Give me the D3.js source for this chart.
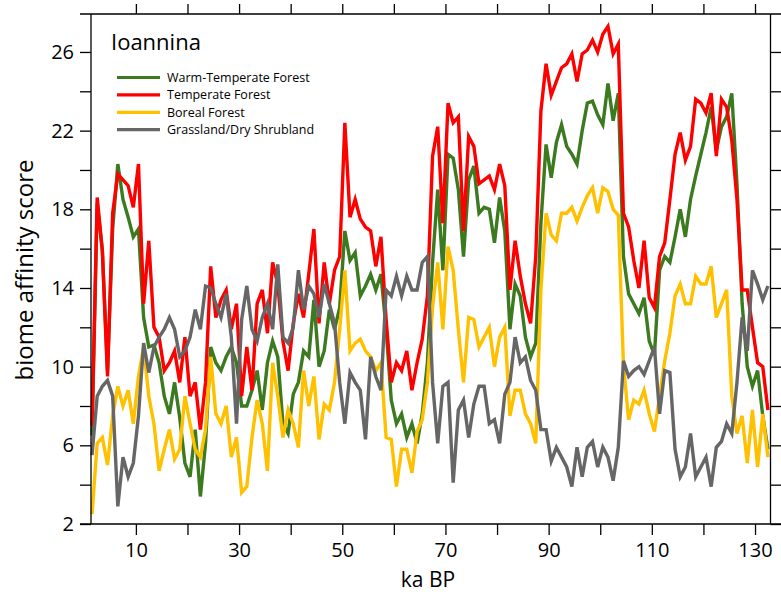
<!DOCTYPE html>
<html lang="en">

<head>
  <meta charset="utf-8">
  <title>Ioannina biome affinity scores</title>
  <script src="https://d3js.org/d3.v7.min.js"></script>
  <style>
    body { margin: 0; background: #fff; }
    svg { display: block; font-family: "Open Sans", "Noto Sans", sans-serif; }
  </style>
</head>

<body>
  <script>
    // sample ages (ka BP), one per ka from 1.5
    var ages = d3.range(132).map(function (i) { return 1.5 + i; });

    var warmTemperate = [
      6.5, 18.3, 15.9, 9.8, 17, 20.3, 18.5, 17.6, 16.6, 17, 12.5, 11, 11.1, 10.2, 8.5, 7.6, 9.2, 7.4, 5.1, 4.4, 6.8, 3.4, 6.1,
      11.0, 10.2, 9.8, 10.5, 11, 10.2, 8, 8, 8.8, 9.8, 7.8, 10.2, 11.3, 10.5, 7.1, 6.6, 8.6, 9.2, 10.8, 10.5, 13.4,
      10, 10.8, 12.9, 11.9, 13, 16.9, 15.4, 15.8, 13.6, 14.1, 14.7, 13.9, 14.7, 11.9, 8.3, 7.1, 7.6, 6.4, 7.1, 6.1, 7.6, 10.2, 15.3,
      19, 14.9, 20.8, 20.6, 19, 15.6, 19.5, 20.2, 17.8, 18.1, 18, 16.3, 18.6, 16.9, 11.9, 14.2, 13.6, 11.5, 10.5, 11.2, 17.3,
      21.3, 19.6, 21.4, 22.3, 21.2, 20.8, 20.3, 22, 23.4, 23.5, 22.8, 22.3, 24.4, 22.5, 23.9, 15.6, 13.7, 13.2, 12.7, 13.5, 11.3, 10.6,
      14.9, 15.6, 15.3, 16.6, 18, 16.6, 18.5, 19.7, 20.8, 21.9, 23.2, 21, 22.2, 22.7, 23.9, 19.3, 13.2, 10, 9, 9.8, 7.5, 5.8
    ];
    var temperate = [
      7, 18.6, 15.9, 9.5, 17.8, 19.8, 19.5, 19.2, 18.1, 20.3, 13.2, 16.4, 12, 11.5, 9.8, 10.2, 10.8, 9.2, 11.5, 8.5, 9.2, 6.8, 9.2,
      15.1, 12.5, 13.4, 13.9, 11.9, 13.2, 8.5, 11, 8.8, 13.2, 13.9, 11.7, 15.3, 14.2, 11.3, 9.8, 12.2, 13.7, 12.5, 14.7, 17,
      12.2, 15.3, 13.2, 14.9, 15.6, 22.4, 17.6, 18.5, 17.5, 17.1, 16.9, 15.1, 16.6, 12.4, 9.2, 10.2, 9.8, 10.8, 8.8, 10.2, 11.4, 13.6, 20.7,
      22.2, 17.3, 23.4, 22.4, 22.7, 16.9, 21.7, 21.2, 19.3, 19.5, 19.7, 19, 20.3, 19.2, 13.9, 16.4, 14.6, 13.2, 12.2, 15.6, 23,
      25.4, 23.8, 24.5, 25.2, 25.4, 25.9, 24.5, 25.9, 26.1, 26.6, 26, 26.9, 27.3, 25.9, 26.4, 17.8, 17.1, 15.4, 14, 16.4, 13.5, 13,
      15.6, 16.3, 18.5, 20.8, 21.9, 20.5, 21.2, 23.6, 23.4, 22.9, 23.9, 20.7, 23.6, 23.2, 21.5, 18.5, 13.9, 13.9, 12, 10.2, 10, 7.8
    ];
    var boreal = [
      2.5, 6.1, 6.4, 5, 7.5, 9, 8, 8.8, 7.1, 9.5, 11, 8.5, 7.1, 4.7, 5.8, 6.8, 5.3, 5.8, 8.5, 7.1, 5.8, 5.4, 6.8,
      10.5, 7.6, 7.1, 8, 5.4, 6.4, 3.6, 3.9, 6.4, 8.3, 7.1, 4.7, 10.2, 8.5, 6.4, 7.8, 7.1, 5.9, 9.8, 8, 9.5,
      6.3, 8.1, 7.8, 9.2, 11.9, 14.9, 10.8, 11.2, 11.4, 10.8, 10.5, 9.8, 10.2, 6.4, 6.3, 3.9, 5.8, 5.8, 4.6, 6.7, 7.3, 9.2, 13,
      15.3, 11.9, 16.1, 14.9, 11.9, 9.2, 12.5, 12.4, 11, 11.5, 12, 10, 11.5, 12, 7.5, 8.8, 8.8, 7.6, 7.1, 6.1, 13.9,
      17.8, 16.7, 16.4, 17.8, 17.8, 18.1, 17.4, 18.1, 18.7, 19.1, 17.8, 19.1, 18.9, 18, 17.7, 10.1, 7.3, 8.3, 8.1, 8.8, 7.6, 6.7,
      8.5, 10.3, 11.7, 13.6, 14.2, 13.2, 13.2, 14.6, 14.2, 14.2, 15.1, 12.5, 13.2, 13.9, 8.5, 6.6, 7.5, 5.1, 7.8, 4.9, 7.6, 5.4
    ];
    var grassland = [
      5.5, 8.5, 9, 9.3, 8.5, 2.9, 5.4, 4.4, 5.1, 7.5, 11.2, 9.7, 11, 11.5, 11.9, 12.5, 11.9, 10.5, 10.8, 11.5, 12.9, 11.9, 14.1,
      14, 13.2, 12.5, 13.7, 11.5, 7.1, 12.4, 14.1, 11.9, 11.3, 12.5, 13.2, 11.9, 15.2, 11.5, 11.2, 12, 14.9, 12.9, 14.1, 13.7,
      12.5, 14.2, 13.2, 12.2, 9.2, 7.1, 9.7, 9.2, 8.8, 6.3, 10.5, 9.5, 8.8, 13.9, 13.6, 14.6, 13.6, 14.6, 13.9, 13.9, 15.3, 15.6, 9.2,
      6.1, 9, 9.2, 4.1, 7.8, 8.3, 6.4, 8.1, 9, 9, 7.1, 7.3, 6.1, 8.6, 9.2, 11.5, 10.2, 10.5, 9.3, 8.8, 6.8,
      6.8, 5.2, 5.9, 5.4, 4.9, 3.9, 5.9, 4.4, 5.9, 6.2, 4.9, 5.9, 5.4, 4.2, 5.9, 10.3, 9.5, 9.8, 10, 9.6, 10.3, 11,
      7.6, 9.8, 9.7, 5.8, 4.4, 4.9, 6.6, 4.4, 4.9, 5.4, 3.9, 5.9, 6.2, 7.1, 6.6, 9.2, 12.5, 10.8, 14.9, 14.2, 13.4, 14.1
    ];

    var seriesNames = ['Warm-Temperate Forest', 'Temperate Forest', 'Boreal Forest', 'Grassland/Dry Shrubland'];
    var seriesColors = ['#3b7a1f', '#ff0000', '#ffc000', '#666666'];
    var seriesValues = [warmTemperate, temperate, boreal, grassland];

    var xTicks = [10, 20, 30, 40, 50, 60, 70, 80, 90, 100, 110, 120, 130];
    var xTickLabels = [10, 30, 50, 70, 90, 110, 130];
    var yTicks = [2, 4, 6, 8, 10, 12, 14, 16, 18, 20, 22, 24, 26];
    var yTickLabels = [2, 6, 10, 14, 18, 22, 26];

    var w = 781, h = 592;
    var margin = { top: 14, right: 10.5, bottom: 68, left: 91 };
    var tick = 11;

    var x = d3.scaleLinear().domain([1.3, 133]).range([margin.left, w - margin.right]);
    var y = d3.scaleLinear().domain([2, 27.93]).range([h - margin.bottom, margin.top]);

    var svg = d3.select('body').append('svg')
      .attr('width', w)
      .attr('height', h);

    // data lines
    var line = d3.line()
      .x(function (d) { return x(d[0]); })
      .y(function (d) { return y(d[1]); });

    svg.append('g').selectAll('path')
      .data(seriesValues)
      .enter().append('path')
      .attr('d', function (vals) {
        return line(vals.map(function (v, i) { return [ages[i], v]; }));
      })
      .attr('fill', 'none')
      .attr('stroke', function (d, i) { return seriesColors[i]; })
      .attr('stroke-width', 3.4)
      .attr('stroke-linejoin', 'miter');

    // axes
    function fmt(labels) {
      return function (d) { return labels.indexOf(d) >= 0 ? d : ''; };
    }
    var axisB = svg.append('g')
      .attr('transform', 'translate(0,' + y.range()[0] + ')')
      .call(d3.axisBottom(x).tickValues(xTicks).tickSize(tick).tickSizeOuter(0).tickFormat(fmt(xTickLabels)));
    var axisT = svg.append('g')
      .attr('transform', 'translate(0,' + y.range()[1] + ')')
      .call(d3.axisTop(x).tickValues(xTicks).tickSize(tick - 1).tickSizeOuter(0).tickFormat(''));
    var axisL = svg.append('g')
      .attr('transform', 'translate(' + x.range()[0] + ',0)')
      .call(d3.axisLeft(y).tickValues(yTicks).tickSize(tick).tickSizeOuter(0).tickFormat(fmt(yTickLabels)));
    var axisR = svg.append('g')
      .attr('transform', 'translate(' + x.range()[1] + ',0)')
      .call(d3.axisRight(y).tickValues(yTicks).tickSize(tick).tickSizeOuter(0).tickFormat(''));

    [axisB, axisT, axisL, axisR].forEach(function (a) {
      a.select('.domain').remove();
      a.selectAll('line').attr('stroke', '#000').attr('stroke-width', 1.3);
      a.selectAll('text').attr('fill', '#000').style('font-size', '20px').style('font-family', '"Open Sans", sans-serif');
    });
    axisB.selectAll('text').attr('dy', null).attr('y', 33);
    axisL.selectAll('text').attr('x', -17);

    // frame: horizontal lines run out as far as the ticks
    var frame = svg.append('g').attr('stroke', '#000').attr('stroke-width', 1.3);
    frame.append('line').attr('x1', x.range()[0] - tick).attr('x2', w).attr('y1', y.range()[1]).attr('y2', y.range()[1]);
    frame.append('line').attr('x1', x.range()[0] - tick).attr('x2', w).attr('y1', y.range()[0]).attr('y2', y.range()[0]);
    frame.append('line').attr('x1', x.range()[0]).attr('x2', x.range()[0]).attr('y1', y.range()[1]).attr('y2', y.range()[0]);
    frame.append('line').attr('x1', x.range()[1]).attr('x2', x.range()[1]).attr('y1', y.range()[1]).attr('y2', y.range()[0]);

    // axis titles
    svg.append('text')
      .attr('x', 428).attr('y', 587)
      .attr('text-anchor', 'middle')
      .style('font-size', '21px')
      .text('ka BP');
    svg.append('text')
      .attr('transform', 'translate(33,270) rotate(-90)')
      .attr('text-anchor', 'middle')
      .style('font-size', '24px')
      .text('biome affinity score');

    // site name
    svg.append('text')
      .attr('x', 111).attr('y', 50)
      .style('font-size', '22px')
      .text('Ioannina');

    // legend
    var legend = svg.append('g').selectAll('g')
      .data(seriesNames)
      .enter().append('g')
      .attr('transform', function (d, i) { return 'translate(117,' + (77.5 + i * 17.4) + ')'; });
    legend.append('line')
      .attr('x1', 0).attr('x2', 43)
      .attr('stroke', function (d, i) { return seriesColors[i]; })
      .attr('stroke-width', 3.2);
    legend.append('text')
      .attr('x', 50).attr('dy', '0.35em')
      .style('font-size', '12.5px')
      .text(function (d) { return d; });
  </script>
</body>

</html>
